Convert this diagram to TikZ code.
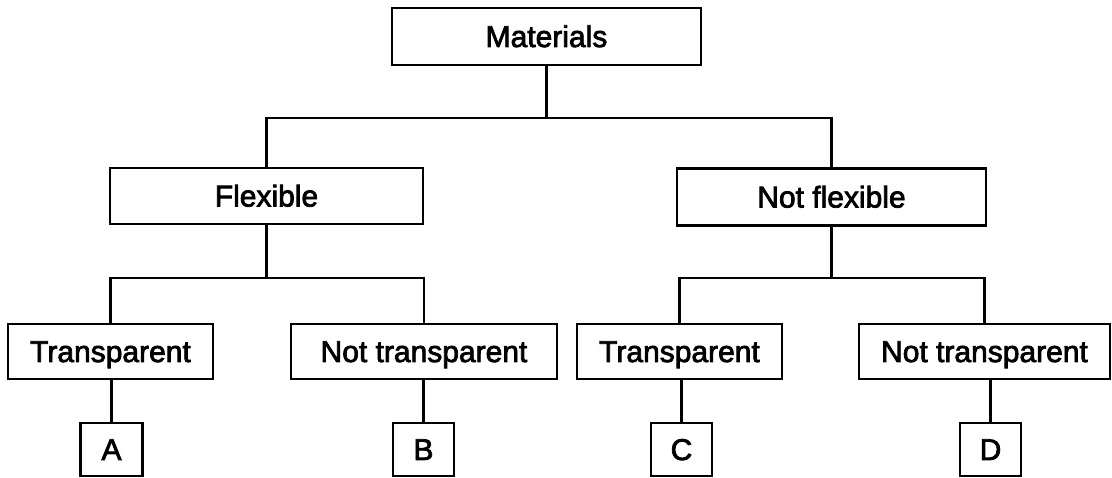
\documentclass[tikz,border=0pt]{standalone}
\usepackage{fontspec}
\setmainfont{Liberation Sans}
\newfontfamily\inkfont{Liberation Sans}[FakeBold=2.5]
\begin{document}
\begin{tikzpicture}[x=1pt,y=1pt,
  box/.style={draw,line width=2.2pt,rectangle,inner sep=0pt,
    font=\inkfont\fontsize{30}{32}\selectfont,text height=21pt,text depth=0pt},
  conn/.style={line width=2.2pt}]
\useasboundingbox (0,0) rectangle (1112,-478);
\node[box,minimum width=309pt,minimum height=57pt] (M) at (546.5,-36.5) {Materials};
\node[box,minimum width=313pt,minimum height=56pt] (F) at (266.5,-196) {Flexible};
\node[box,minimum width=309pt,minimum height=57pt] (NF) at (831.5,-197) {Not flexible};
\node[box,minimum width=205pt,minimum height=55pt] (TL) at (110.5,-351.5) {Transparent};
\node[box,minimum width=266pt,minimum height=55pt] (NTL) at (424,-351.5) {Not transparent};
\node[box,minimum width=205pt,minimum height=55pt] (TR) at (679.5,-351.5) {Transparent};
\node[box,minimum width=251pt,minimum height=55pt] (NTR) at (984.5,-351.5) {Not transparent};
\node[box,minimum width=62pt,minimum height=53pt] (A) at (111.5,-449.5) {A};
\node[box,minimum width=61pt,minimum height=53pt] (B) at (423.5,-449.5) {B};
\node[box,minimum width=61pt,minimum height=53pt] (C) at (681.5,-449.5) {C};
\node[box,minimum width=61pt,minimum height=53pt] (D) at (990.5,-449.5) {D};
\coordinate (j1) at (546.5,-118);
\coordinate (j2) at (266.5,-278);
\coordinate (j3) at (831.5,-278);
\draw[conn] (M.south) -- (j1);
\draw[conn] (F.north) |- (j1) -| (NF.north);
\draw[conn] (F.south) -- (j2);
\draw[conn] (TL.north) |- (j2) -| (NTL.north);
\draw[conn] (NF.south) -- (j3);
\draw[conn] (TR.north) |- (j3) -| (NTR.north);
\draw[conn] (A.north) -- (A.north |- TL.south);
\draw[conn] (B.north) -- (B.north |- NTL.south);
\draw[conn] (C.north) -- (C.north |- TR.south);
\draw[conn] (D.north) -- (D.north |- NTR.south);
\end{tikzpicture}
\end{document}
